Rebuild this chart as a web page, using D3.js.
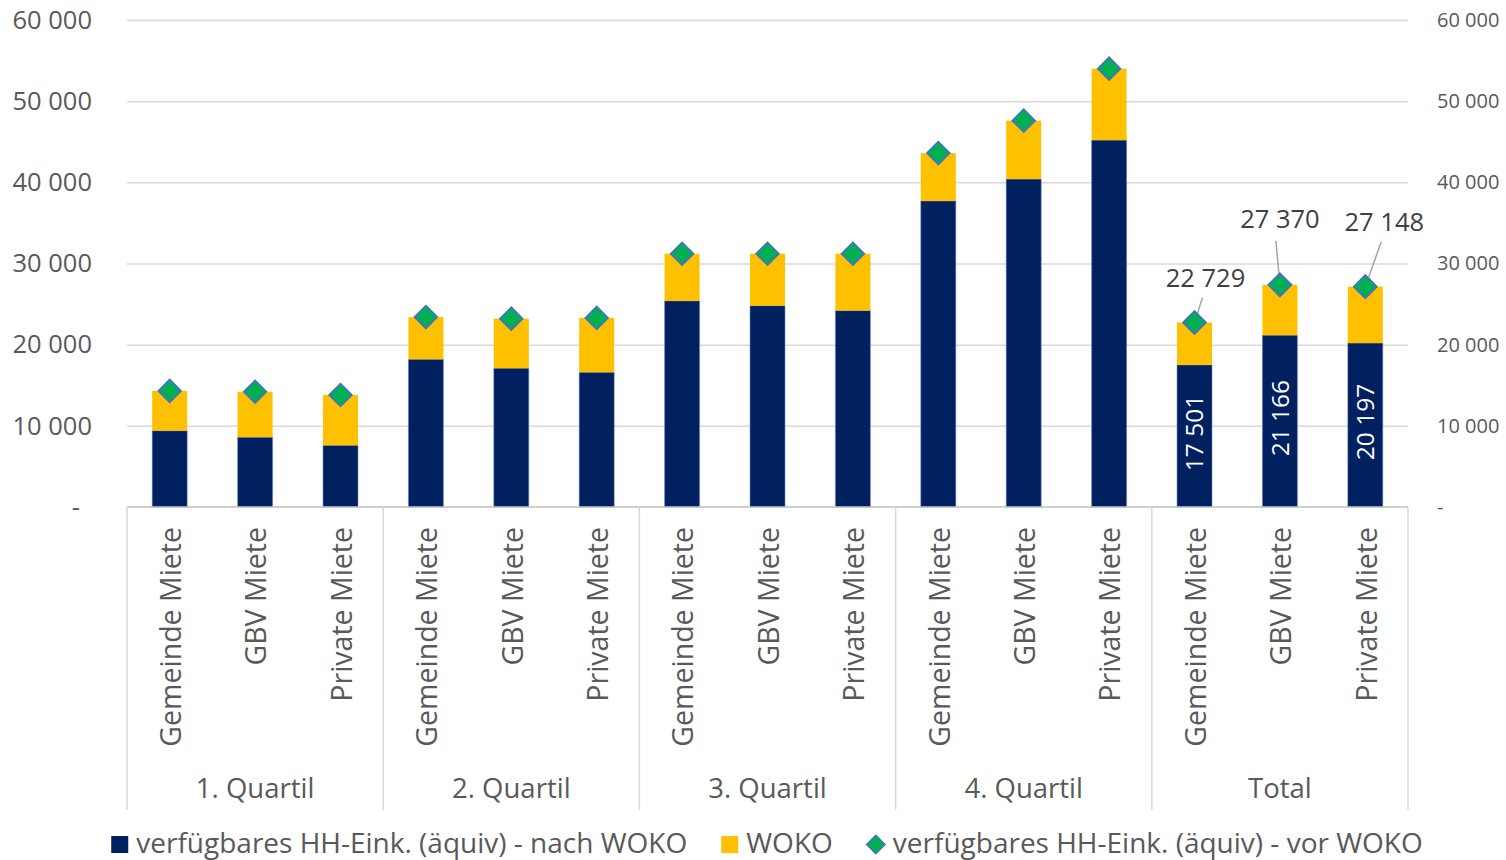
<!DOCTYPE html>
<html>
<head>
<meta charset="utf-8">
<script src="https://cdn.jsdelivr.net/npm/d3@7"></script>
<style>
  html, body { margin: 0; padding: 0; background: #fff; }
  svg { display: block; font-family: "Open Sans", sans-serif; }
</style>
</head>
<body>
<svg id="chart" width="1506" height="860"></svg>
<script>
// Household income by quartile and tenure, after and before housing allowance (WOKO)
const groups = ["1. Quartil", "2. Quartil", "3. Quartil", "4. Quartil", "Total"];
const tenures = ["Gemeinde Miete", "GBV Miete", "Private Miete"];

// verfügbares HH-Eink. (äquiv) - nach WOKO
const nachWoko = [9400, 8600, 7600, 18200, 17100, 16600, 25400, 24800, 24200, 37700, 40400, 45200, 17501, 21166, 20197];
// WOKO
const woko = [4900, 5600, 6200, 5200, 6100, 6700, 5800, 6400, 7000, 5900, 7200, 8800, 5228, 6204, 6951];
// verfügbares HH-Eink. (äquiv) - vor WOKO
const vorWoko = [14300, 14200, 13800, 23400, 23200, 23300, 31200, 31200, 31200, 43600, 47600, 54000, 22729, 27370, 27148];

const yTicks = [0, 10000, 20000, 30000, 40000, 50000, 60000];
const legendLabels = [
  "verfügbares HH-Eink. (äquiv) - nach WOKO",
  "WOKO",
  "verfügbares HH-Eink. (äquiv) - vor WOKO"
];

const C_NAVY = "#002060", C_GOLD = "#FFC000", C_GREEN = "#00B050", C_EDGE = "#4472C4";
const C_TEXT = "#595959", C_LABEL = "#404040", C_GRID = "#D9D9D9", C_AXIS = "#BFBFBF";

const svg = d3.select("#chart");
const plotLeft = 127, plotRight = 1408, plotTop = 20, plotBottom = 507;

const rows = [];
groups.forEach((g, gi) => tenures.forEach((t, ti) => {
  const i = gi * tenures.length + ti;
  rows.push({ key: i, group: g, tenure: t, nach: nachWoko[i], woko: woko[i], vor: vorWoko[i] });
}));

const x = d3.scaleBand().domain(rows.map(d => d.key)).range([plotLeft, plotRight])
  .paddingInner(0.59).paddingOuter(0.295);
const y = d3.scaleLinear().domain([0, 60000]).range([plotBottom, plotTop]);

const fmt = v => v === 0 ? "-" : d3.format(",")(v).replace(/,/g, " ");

// gridlines
svg.append("g")
  .attr("transform", `translate(${plotLeft},0)`)
  .call(d3.axisLeft(y).tickValues(yTicks.filter(v => v > 0)).tickSize(-(plotRight - plotLeft)).tickFormat(""))
  .call(g => g.select(".domain").remove())
  .call(g => g.selectAll("line").attr("stroke", C_GRID).attr("stroke-width", 1.5));

// left axis labels
svg.append("g")
  .attr("transform", `translate(${plotLeft},0)`)
  .call(d3.axisLeft(y).tickValues(yTicks).tickSize(0).tickPadding(35).tickFormat(fmt))
  .call(g => g.select(".domain").remove())
  .call(g => g.selectAll("text").attr("fill", C_TEXT).style("font-size", "25.5px")
    .attr("dx", d => d === 0 ? -12 : 0));

// right axis labels
svg.append("g")
  .attr("transform", `translate(${plotRight},0)`)
  .call(d3.axisRight(y).tickValues(yTicks).tickSize(0).tickPadding(29).tickFormat(fmt))
  .call(g => g.select(".domain").remove())
  .call(g => g.selectAll("text").attr("fill", C_TEXT).style("font-size", "20px"));

svg.selectAll(".tick text").attr("font-family", "Open Sans, sans-serif");

// stacked bars
const bars = svg.append("g");
bars.selectAll("rect.nach").data(rows).join("rect")
  .attr("class", "nach")
  .attr("x", d => x(d.key)).attr("width", x.bandwidth())
  .attr("y", d => y(d.nach)).attr("height", d => y(0) - y(d.nach))
  .attr("fill", C_NAVY).attr("stroke", "rgba(110,140,200,0.55)").attr("stroke-width", 1);
bars.selectAll("rect.woko").data(rows).join("rect")
  .attr("class", "woko")
  .attr("x", d => x(d.key)).attr("width", x.bandwidth())
  .attr("y", d => y(d.nach + d.woko)).attr("height", d => y(d.nach) - y(d.nach + d.woko))
  .attr("fill", C_GOLD);

// x axis line and group separators
svg.append("line").attr("x1", plotLeft).attr("x2", plotRight).attr("y1", y(0)).attr("y2", y(0))
  .attr("stroke", C_AXIS).attr("stroke-width", 1.5);
const sepX = d3.range(groups.length + 1).map(k => plotLeft + k * tenures.length * x.step());
svg.append("g").selectAll("line").data(sepX).join("line")
  .attr("x1", d => d).attr("x2", d => d).attr("y1", y(0)).attr("y2", 810)
  .attr("stroke", C_GRID).attr("stroke-width", 1.5);

// tenure labels (rotated)
svg.append("g").selectAll("text").data(rows).join("text")
  .attr("transform", d => `translate(${x(d.key) + x.bandwidth() / 2 + 1},527) rotate(-90)`)
  .attr("text-anchor", "end").attr("dy", "0.36em")
  .attr("fill", C_TEXT).style("font-size", "28.5px")
  .text(d => d.tenure);

// group labels
svg.append("g").selectAll("text").data(groups).join("text")
  .attr("x", (d, k) => (sepX[k] + sepX[k + 1]) / 2).attr("y", 798)
  .attr("text-anchor", "middle").attr("fill", C_TEXT).style("font-size", "27.5px")
  .text(d => d);

// diamonds: income before WOKO
const diamond = d3.symbol().type(d3.symbolSquare).size(16 * 16);
svg.append("g").selectAll("path").data(rows).join("path")
  .attr("d", diamond)
  .attr("transform", d => `translate(${x(d.key) + x.bandwidth() / 2},${y(d.vor)}) rotate(45)`)
  .attr("fill", C_GREEN).attr("stroke", C_EDGE).attr("stroke-width", 1.8);

// value labels for the totals
const totals = rows.filter(d => d.group === "Total");
const labelOffset = [[11, -36], [0, -57], [19, -56]];
const lineStart = [[8, -25], [-4, -44], [16, -45]];
const lab = svg.append("g");
totals.forEach((d, k) => {
  const cx = x(d.key) + x.bandwidth() / 2, cy = y(d.vor);
  lab.append("line")
    .attr("x1", cx + lineStart[k][0]).attr("y1", cy + lineStart[k][1])
    .attr("x2", cx).attr("y2", cy)
    .attr("stroke", "#A6A6A6").attr("stroke-width", 1.5);
  lab.append("text")
    .attr("x", cx + labelOffset[k][0]).attr("y", cy + labelOffset[k][1])
    .attr("text-anchor", "middle").attr("fill", C_LABEL).style("font-size", "25.5px")
    .text(fmt(d.vor));
  // inside label for the after-WOKO segment
  lab.append("text")
    .attr("transform", `translate(${cx},${(y(0) + y(d.nach)) / 2 - 3}) rotate(-90)`)
    .attr("text-anchor", "middle").attr("dy", "0.36em")
    .attr("fill", "#fff").style("font-size", "24.5px")
    .text(fmt(d.nach));
});

// diamonds of the total group drawn again above the leader lines
svg.append("g").selectAll("path").data(totals).join("path")
  .attr("d", diamond)
  .attr("transform", d => `translate(${x(d.key) + x.bandwidth() / 2},${y(d.vor)}) rotate(45)`)
  .attr("fill", C_GREEN).attr("stroke", C_EDGE).attr("stroke-width", 1.8);

// legend
const legend = svg.append("g");
const swatch = [C_NAVY, C_GOLD, C_GREEN];
let cursor = 0;
legendLabels.forEach((t, k) => {
  const g = legend.append("g");
  if (k < 2) {
    g.append("rect").attr("x", 0).attr("y", -17).attr("width", 17).attr("height", 17).attr("fill", swatch[k]);
  } else {
    g.append("path").attr("d", d3.symbol().type(d3.symbolSquare).size(13 * 13))
      .attr("transform", "translate(9,-8.5) rotate(45)")
      .attr("fill", C_GREEN).attr("stroke", C_EDGE).attr("stroke-width", 1.5);
  }
  const tx = g.append("text").attr("x", k < 2 ? 25 : 26).attr("y", 0)
    .attr("fill", C_TEXT).style("font-size", "28px").text(t);
  const w = (k < 2 ? 25 : 26) + tx.node().getComputedTextLength();
  g.attr("transform", `translate(${cursor},853)`);
  cursor += w + 34;
});
const legendWidth = cursor - 34;
legend.attr("transform", `translate(${767 - legendWidth / 2},0)`);
</script>
</body>
</html>
